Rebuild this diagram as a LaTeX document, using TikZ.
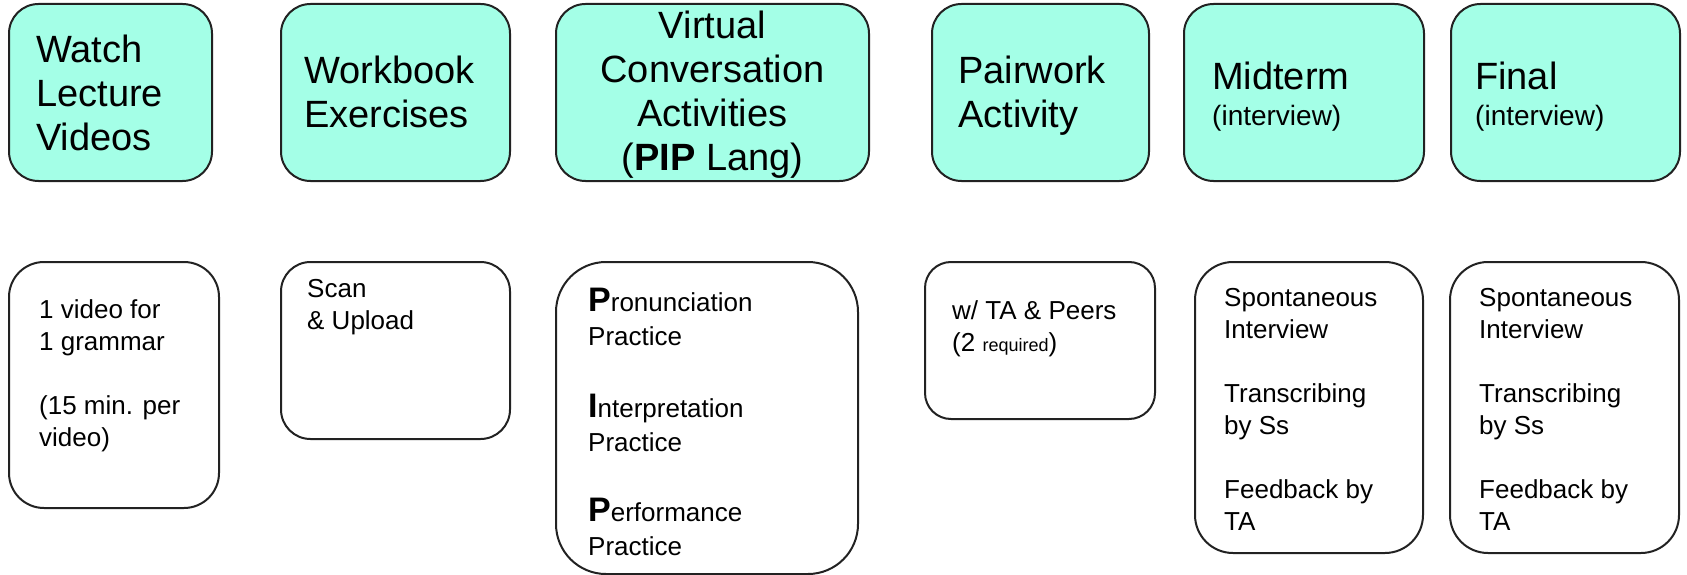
\documentclass[tikz,border=0pt]{standalone}
\usepackage{fontspec}
\setmainfont{Liberation Sans}
\usetikzlibrary{positioning}
\definecolor{mint}{RGB}{164,255,231}
\definecolor{edge}{RGB}{34,34,34}
\newcommand{\capletter}[1]{{\fontsize{34}{34}\selectfont\bfseries #1}}
\tikzset{
  framebox/.style={draw=edge,line width=2pt,inner sep=0pt},
  taskbox/.style={framebox,fill=mint,minimum height=177pt,rounded corners=29.5pt},
  notebox/.style={framebox},
  tasktext/.style={font=\fontsize{38}{44}\selectfont,align=left,inner sep=0pt,anchor=west},
  notetext/.style={font=\fontsize{26}{32}\selectfont,align=left,inner sep=0pt,anchor=north west},
}
\begin{document}
\begin{tikzpicture}[x=1pt,y=-1pt]
  \useasboundingbox (0,0) rectangle (1687,575);

  % top row: activities
  \node[taskbox,minimum width=203pt] (watch) at (110.5,92.5) {};
  \node[taskbox,minimum width=229pt] (workbook) at (395.5,92.5) {};
  \node[taskbox,minimum width=313pt] (virtual) at (712.5,92.5) {};
  \node[taskbox,minimum width=217pt] (pairwork) at (1040.5,92.5) {};
  \node[taskbox,minimum width=240pt] (midterm) at (1304,92.5) {};
  \node[taskbox,minimum width=229pt] (final) at (1565.5,92.5) {};

  \node[tasktext] (watchtxt) at ([xshift=28pt]watch.west) {Watch\\Lecture\\Videos};
  \node[tasktext] (workbooktxt) at ([xshift=24pt,yshift=1pt]workbook.west) {Workbook\\Exercises};
  \node[tasktext,anchor=center,align=center] (virtualtxt) at ([yshift=-2pt]virtual.center)
    {Virtual\\Conversation\\Activities\\(\textbf{PIP} Lang)};
  \node[tasktext] (pairworktxt) at ([xshift=27pt,yshift=-3pt]pairwork.west) {Pairwork\\Activity};
  \node[tasktext] (midtermtxt) at ([xshift=29pt,yshift=-4pt]midterm.west)
    {Midterm\\[-8pt]{\fontsize{28}{32}\selectfont(interview)}};
  \node[tasktext] (finaltxt) at ([xshift=25pt,yshift=-4pt]final.west)
    {Final\\[-8pt]{\fontsize{28}{32}\selectfont(interview)}};

  % bottom row: details
  \node[notebox,minimum width=210pt,minimum height=246pt,rounded corners=35pt] (videonote) at (114,385) {};
  \node[notebox,minimum width=229pt,minimum height=177pt,rounded corners=29.5pt] (scannote) at (395.5,350.5) {};
  \node[notebox,minimum width=302pt,minimum height=312pt,rounded corners=50pt] (pipnote) at (707,418) {};
  \node[notebox,minimum width=230pt,minimum height=157pt,rounded corners=26pt] (peernote) at (1040,340.5) {};
  \node[notebox,minimum width=228pt,minimum height=291pt,rounded corners=38pt] (midnote) at (1309,407.5) {};
  \node[notebox,minimum width=229pt,minimum height=291pt,rounded corners=38pt] (finalnote) at (1564.5,407.5) {};

  \node[notetext] (videotxt) at ([xshift=31pt,yshift=-38pt]videonote.north west)
    {1 video for\\1 grammar\\[32pt](15 min. per\\video)};
  \node[notetext] (scantxt) at ([xshift=27pt,yshift=-18pt]scannote.north west) {Scan\\\& Upload};
  \node[notetext,font=\fontsize{26}{34}\selectfont] (piptxt) at ([xshift=33pt,yshift=-27pt]pipnote.north west)
    {\capletter{P}ronunciation\\Practice\\[38pt]\capletter{I}nterpretation\\Practice\\[36pt]\capletter{P}erformance\\Practice};
  \node[notetext] (peertxt) at ([xshift=28pt,yshift=-39pt]peernote.north west)
    {w/ TA \& Peers\\(2 {\fontsize{18}{18}\selectfont required})};
  \node[notetext] (midtxt) at ([xshift=30pt,yshift=-27pt]midnote.north west)
    {Spontaneous\\Interview\\[32pt]Transcribing\\by Ss\\[32pt]Feedback by\\TA};
  \node[notetext] (finaltxt2) at ([xshift=30pt,yshift=-27pt]finalnote.north west)
    {Spontaneous\\Interview\\[32pt]Transcribing\\by Ss\\[32pt]Feedback by\\TA};
\end{tikzpicture}
\end{document}
